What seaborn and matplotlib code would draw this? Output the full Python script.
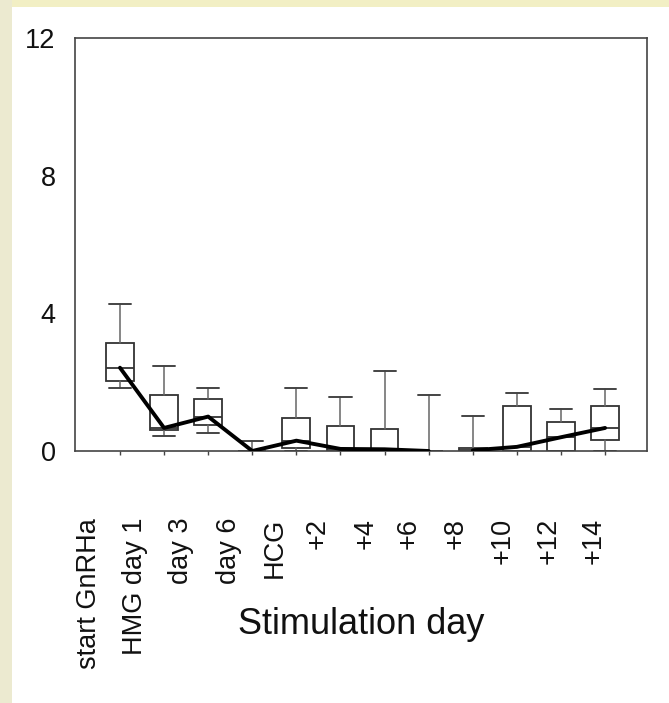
import pandas as pd
import matplotlib.pyplot as plt
import seaborn as sns
from matplotlib.patches import Rectangle

# stimulation days (x categories)
days = ["start GnRHa", "HMG day 1", "day 3", "day 6", "HCG", "+2", "+4",
        "+6", "+8", "+10", "+12", "+14"]

# box statistics
whisker_low = [1.83, 0.44, 0.52, 0.0, 0.0, 0.0, 0.0, 0.0, 0.0, 0.0, 0.0, 0.0]
q1 = [2.03, 0.62, 0.76, 0.0, 0.08, 0.0, 0.0, 0.0, 0.0, 0.0, 0.0, 0.32]
median = [2.42, 0.67, 1.0, 0.0, 0.3, 0.06, 0.05, 0.0, 0.02, 0.12, 0.4, 0.67]
q3 = [3.15, 1.63, 1.51, 0.0, 0.97, 0.73, 0.64, 0.0, 0.1, 1.31, 0.85, 1.31]
whisker_high = [4.27, 2.48, 1.83, 0.3, 1.83, 1.57, 2.33, 1.63, 1.02, 1.69, 1.22, 1.81]

# the median curve is broken between +6 and +8
segment = [0] * 8 + [1] * 4

# tick labels in the scan sit a bit left of the tick marks
label_pos = [-0.70, 0.34, 1.38, 2.47, 3.51, 4.49, 5.58, 6.55, 7.62, 8.68, 9.73, 10.75]

sns.set_theme(style="white")
plt.rcParams["font.family"] = ["Liberation Sans", "DejaVu Sans"]

fig = plt.figure(figsize=(6.69, 7.03), dpi=100)
fig.patch.set_facecolor("white")
# pale yellow slide border (top and left)
fig.add_artist(Rectangle((0, 1 - 7 / 703), 1, 7 / 703, transform=fig.transFigure,
                         facecolor="#f2efc4", edgecolor="none"))
fig.add_artist(Rectangle((0, 0), 12 / 669, 1, transform=fig.transFigure,
                         facecolor="#ecead0", edgecolor="none"))

ax = fig.add_axes([75 / 669, 252 / 703, 572 / 669, 413 / 703])

stats = []
for i, d in enumerate(days):
    stats.append({"label": d, "whislo": whisker_low[i], "q1": q1[i], "med": median[i],
                  "q3": q3[i], "whishi": whisker_high[i], "fliers": []})

ax.bxp(stats, positions=range(len(days)), widths=0.63, capwidths=0.5,
       showfliers=False, patch_artist=True,
       boxprops=dict(facecolor="white", edgecolor="#333333", linewidth=1.3),
       medianprops=dict(color="#333333", linewidth=1.3),
       whiskerprops=dict(color="#666666", linewidth=1.1),
       capprops=dict(color="#444444", linewidth=1.4), zorder=2)

df = pd.DataFrame({"pos": range(len(days)), "median": median, "segment": segment})
sns.lineplot(data=df, x="pos", y="median", units="segment", estimator=None,
             color="black", linewidth=2.8, ax=ax, zorder=3)

ax.set_xlim(-1.02, 11.95)
ax.set_ylim(0, 12)
ax.set_yticks([0, 4, 8, 12])
ax.tick_params(axis="y", labelsize=19.5, length=3, pad=11, colors="#111111")

ax.set_xticks(range(len(days)), minor=True)
ax.set_xticks(label_pos, days, rotation=90)
ax.tick_params(axis="x", which="major", length=0, pad=48, labelsize=19.5, colors="#111111")
ax.tick_params(axis="x", which="minor", length=3, direction="out", bottom=True, color="#444444")
ax.set_xlabel("")
ax.set_ylabel("")

for side in ["top", "right", "bottom", "left"]:
    ax.spines[side].set_visible(True)
    ax.spines[side].set_color("#444444")
    ax.spines[side].set_linewidth(1.2)

fig.text(361 / 669, 1 - 625 / 703, "Stimulation day", ha="center", va="center",
         fontsize=26, color="#111111")

fig.savefig("out.png", dpi=100)
